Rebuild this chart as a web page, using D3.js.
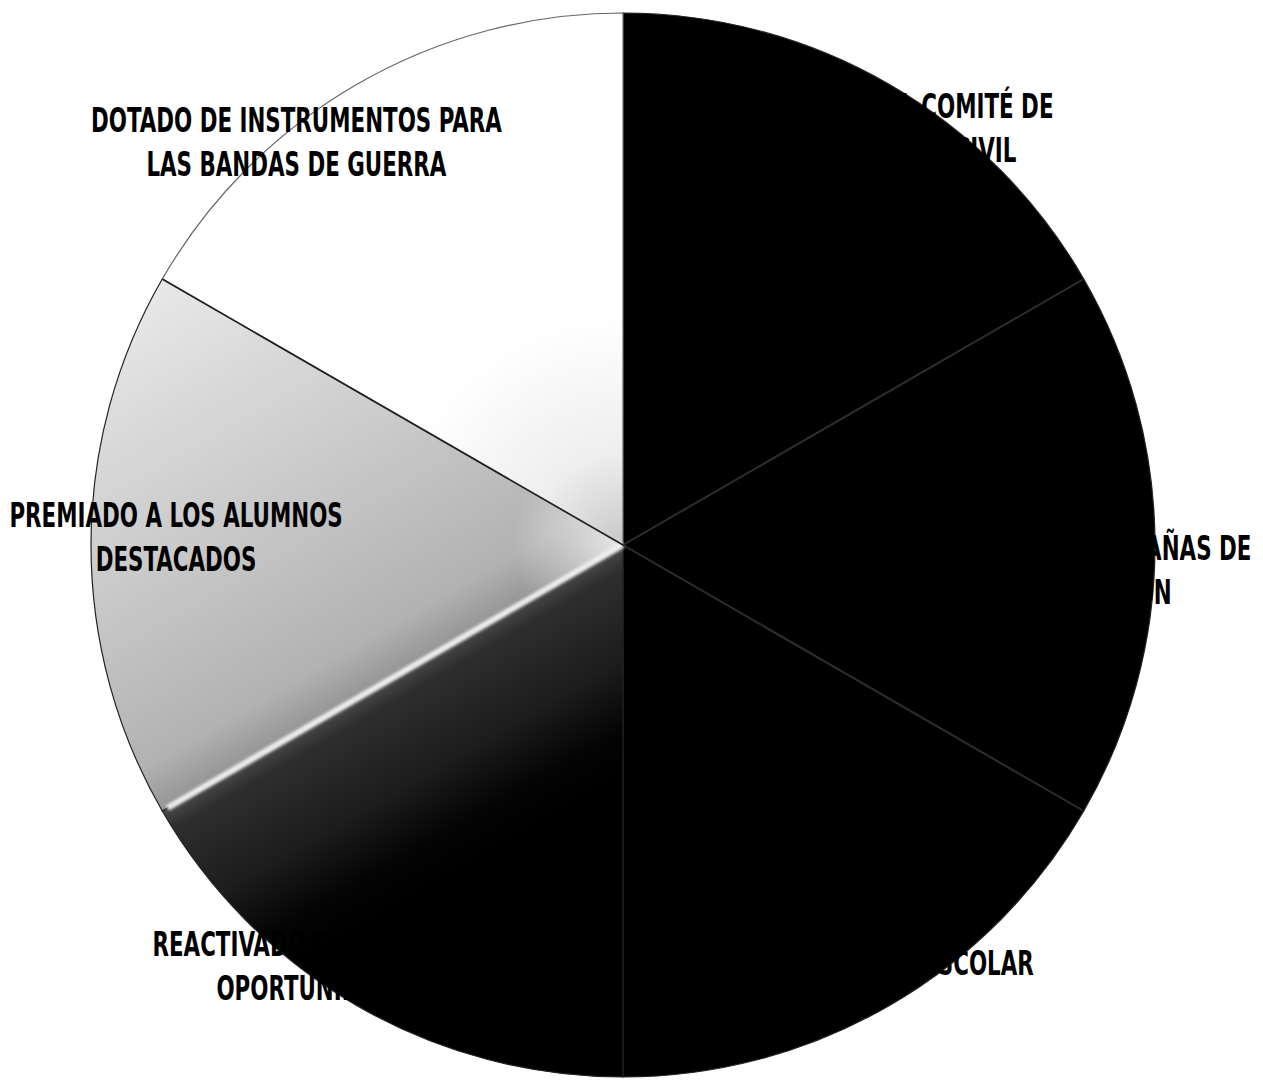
<!DOCTYPE html>
<html>
<head>
<meta charset="utf-8">
<script src="https://cdn.jsdelivr.net/npm/d3@7"></script>
<style>
body{margin:0;background:#fff;}
</style>
</head>
<body>
<div id="chart"></div>
<script>
// slices clockwise from 12 o'clock
var categories = [
  "FORMADO EL COMITÉ DE\nPROTECCIÓN CIVIL",
  "REALIZADO CAMPAÑAS DE\nVACUNACIÓN",
  "REALIZADO EL DESFILE ESCOLAR",
  "REACTIVADO EL PROGRAMA\nOPORTUNIDADES",
  "PREMIADO A LOS ALUMNOS\nDESTACADOS",
  "DOTADO DE INSTRUMENTOS PARA\nLAS BANDAS DE GUERRA"
];
var values = [1, 1, 1, 1, 1, 1];

var W = 1263, H = 1085;
var cx = 623, cy = 545, R = 532;

var fills = ["#000", "#000", "#000", "url(#gDark)", "url(#gLight)", "url(#gWhite)"];
// label placement: angle nudge (deg) and distance from centre
var labAng = [4, 3, 3.1, 5.7, 1, -9];
var labRad = [503, 470, 469, 519, 447, 519];

var svg = d3.select("#chart").append("svg").attr("width", W).attr("height", H);
var defs = svg.append("defs");

var pie = d3.pie().sort(null).value(function(d){ return d; });
var arcs = pie(values);
var arc = d3.arc().innerRadius(0).outerRadius(R);

// shading runs across the edge between the dark and the light slice
var edgeA = arcs[4].startAngle;
var nx = -Math.cos(edgeA), ny = -Math.sin(edgeA); // normal pointing into the dark slice

var gd = defs.append("linearGradient").attr("id", "gDark").attr("gradientUnits", "userSpaceOnUse")
  .attr("x1", 0).attr("y1", 0).attr("x2", nx * 200).attr("y2", ny * 200);
[[0, "#4a4a4a"], [0.1, "#2e2e2e"], [0.5, "#1c1c1c"], [0.8, "#040404"], [1, "#000"]].forEach(function(s){
  gd.append("stop").attr("offset", s[0]).attr("stop-color", s[1]);
});

var gl = defs.append("linearGradient").attr("id", "gLight").attr("gradientUnits", "userSpaceOnUse")
  .attr("x1", 0).attr("y1", 0).attr("x2", -nx * 460).attr("y2", -ny * 460);
[[0, "#949494"], [0.1, "#b2b2b2"], [0.45, "#c8c8c8"], [1, "#e8e8e8"]].forEach(function(s){
  gl.append("stop").attr("offset", s[0]).attr("stop-color", s[1]);
});

var gw = defs.append("radialGradient").attr("id", "gWhite").attr("gradientUnits", "userSpaceOnUse")
  .attr("cx", 0).attr("cy", 0).attr("r", 230);
[[0, "#c8c8c8"], [0.4, "#eeeeee"], [1, "#ffffff"]].forEach(function(s){
  gw.append("stop").attr("offset", s[0]).attr("stop-color", s[1]);
});

// bright glow at the tip of the light/dark slices
var gg = defs.append("radialGradient").attr("id", "gGlow").attr("gradientUnits", "userSpaceOnUse")
  .attr("cx", 0).attr("cy", 0).attr("r", 110);
[[0, "#ffffff", 0.8], [1, "#ffffff", 0]].forEach(function(s){
  gg.append("stop").attr("offset", s[0]).attr("stop-color", s[1]).attr("stop-opacity", s[2]);
});

defs.append("filter").attr("id", "blur").append("feGaussianBlur").attr("stdDeviation", 1.8);

var g = svg.append("g").attr("transform", "translate(" + cx + "," + cy + ")");

g.selectAll("path.slice")
  .data(arcs)
  .enter().append("path")
  .attr("class", "slice")
  .attr("d", arc)
  .attr("fill", function(d, i){ return fills[i]; })
  .attr("stroke", function(d, i){ return i == 5 ? "#666" : "#222"; })
  .attr("stroke-width", 1.2);

// glow limited to the light slice
g.append("path")
  .attr("d", arc(arcs[4]))
  .attr("fill", "url(#gGlow)");

// soft highlight along the edge between the dark and light slices
var hl = d3.pointRadial(edgeA, R - 6);
g.append("line").attr("x1", 0).attr("y1", 0).attr("x2", hl[0]).attr("y2", hl[1])
  .attr("stroke", "#f0f0f0").attr("stroke-width", 6).attr("filter", "url(#blur)");
// dark edge between light and white slices
var de = d3.pointRadial(arcs[5].startAngle, R);
g.append("line").attr("x1", 0).attr("y1", 0).attr("x2", de[0]).attr("y2", de[1])
  .attr("stroke", "#222").attr("stroke-width", 1.6);
// faint edges between the black slices
[1, 2].forEach(function(k){
  var p = d3.pointRadial(arcs[k].startAngle, R - 2);
  g.append("line").attr("x1", 0).attr("y1", 0).attr("x2", p[0]).attr("y2", p[1])
    .attr("stroke", "#2c2c2c").attr("stroke-width", 2);
});

// labels, drawn in black on top (hidden where the slice is black)
var lab = g.selectAll("g.lab")
  .data(arcs)
  .enter().append("g")
  .attr("class", "lab")
  .attr("transform", function(d, i){
    var a = (d.startAngle + d.endAngle) / 2 + labAng[i] * Math.PI / 180;
    var p = d3.pointRadial(a, labRad[i]);
    return "translate(" + p[0] + "," + p[1] + ")";
  });

lab.each(function(d, i){
  var lines = categories[i].split("\n");
  var t = d3.select(this).append("text")
    .attr("transform", "scale(0.7,1)")
    .attr("text-anchor", "middle")
    .style("font-family", "'DejaVu Sans Condensed','Liberation Sans Narrow',sans-serif")
    .style("font-weight", "bold")
    .style("font-size", "34px")
    .attr("fill", "#000");
  lines.forEach(function(s, k){
    t.append("tspan").attr("x", 0)
      .attr("y", (k - (lines.length - 1) / 2) * 44 + 12)
      .text(s);
  });
});
</script>
</body>
</html>
